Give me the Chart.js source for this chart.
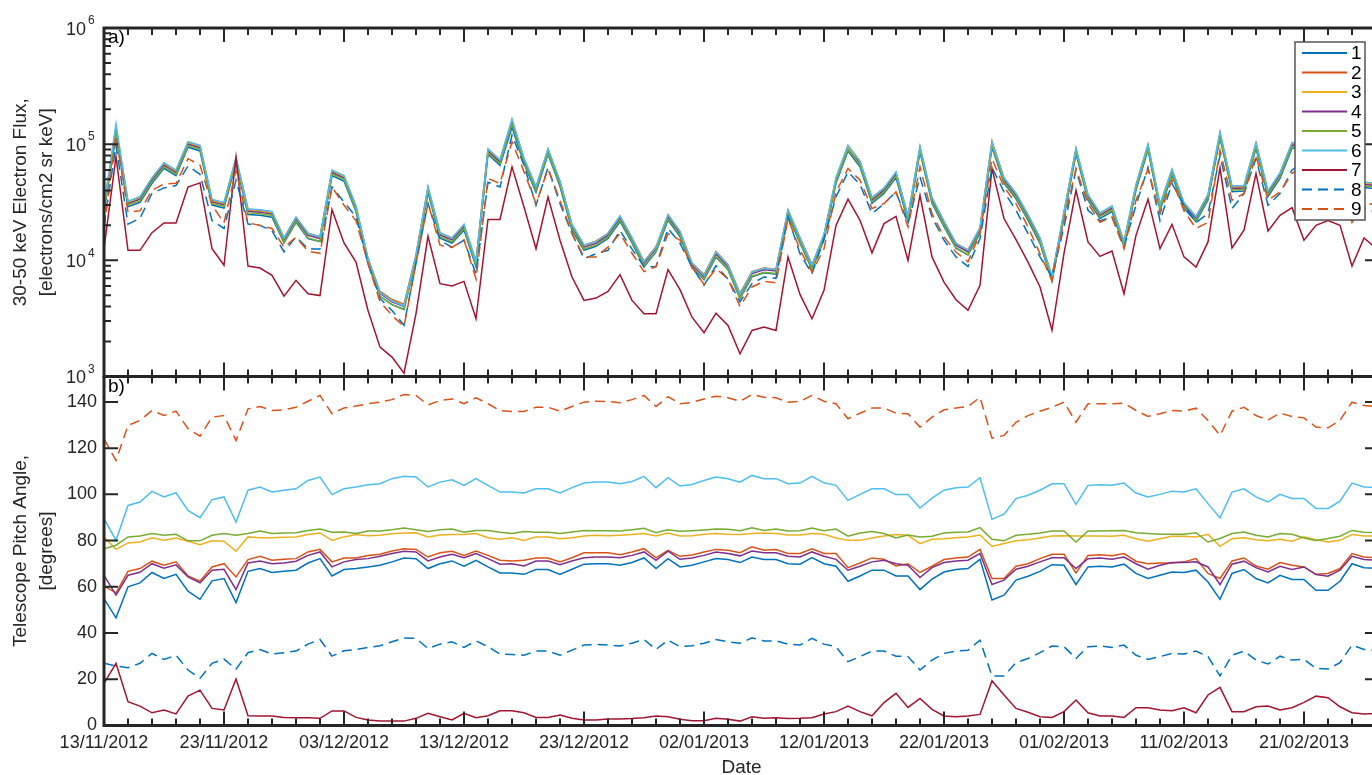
<!DOCTYPE html>
<html>
<head>
<meta charset="utf-8">
<title>30-50 keV electron flux and telescope pitch angle</title>
<script src="https://cdn.jsdelivr.net/npm/chart.js@4.4.1/dist/chart.umd.min.js"></script>
<style>
  html, body { margin: 0; padding: 0; background: #fff; overflow: hidden; }
  #wrap { position: relative; width: 1372px; height: 775px; overflow: hidden; }
  canvas { position: absolute; left: 0; }
  #fluxChart { top: 0; }
  #pitchChart { top: 376px; }
</style>
</head>
<body>
<div id="wrap">
  <canvas id="fluxChart" width="1400" height="400"></canvas>
  <canvas id="pitchChart" width="1400" height="410"></canvas>
</div>
<script>
// one sample per day, counted from 13/11/2012
const dayIndex = Array.from({ length: 107 }, (_, i) => i);
const tickDays = [0, 10, 20, 30, 40, 50, 60, 70, 80, 90, 100];
const tickLabels = ['13/11/2012', '23/11/2012', '03/12/2012', '13/12/2012', '23/12/2012', '02/01/2013',
  '12/01/2013', '22/01/2013', '01/02/2013', '11/02/2013', '21/02/2013'];
const fluxTicks = [1e3, 1e4, 1e5, 1e6];
const pitchTicks = [0, 20, 40, 60, 80, 100, 120, 140];
const seriesNames = ['1', '2', '3', '4', '5', '6', '7', '8', '9'];

// a) 30-50 keV electron flux per telescope
const flux1 = [26300,118000,29000,31600,46100,62000,53600,94000,87400,29900,
  28200,68600,24800,24400,23500,14100,21200,15400,14500,53600,
  47900,26300,9400,4900,4150,3800,10100,38500,15500,14100,
  18200,8800,81800,65800,140000,67700,38500,81800,43200,18200,
  12200,13200,15400,21600,14100,8800,11800,22200,16000,8600,
  6800,10700,8300,4700,7200,7800,7600,24400,14100,8300,
  15000,46100,87400,63900,31000,37600,51700,21600,85500,31000,
  19500,12700,11100,17100,94000,46100,33800,22200,14000,6600,
  23500,82700,32900,22900,26300,13100,40200,89300,27100,54300,
  28000,21500,33000,113000,39000,39500,92100,35300,50800,92100,
  94000,84600,70500,75200,54500,42300,41400];
const flux2 = [29100,136000,32000,34900,51000,68600,59300,104000,96700,33100,
  31200,75900,27500,27000,26000,15600,23400,17100,16000,59300,
  53000,29100,10400,5400,4600,4200,11100,42600,17200,15600,
  20200,9800,90500,72800,160000,74900,42600,90500,47800,20200,
  13500,14600,17100,23900,15600,9800,13100,24500,17700,9500,
  7500,11900,9200,5200,8000,8600,8400,27000,15600,9200,
  16600,51000,96700,70700,34300,41600,57200,23900,94600,34300,
  21500,14000,12300,18900,106000,51000,37400,24500,15500,7300,
  26000,91500,36400,25400,29100,14500,44500,98800,30000,60100,
  31000,23800,36500,125000,43200,43700,102000,39100,56200,102000,
  104000,93600,78000,83200,60300,46800,45800];
const flux3 = [28600,132000,31400,34300,50000,67300,58100,102000,94900,32400,
  30600,74500,26900,26500,25500,15300,23000,16700,15700,58100,
  52000,28600,10200,5300,4500,4100,10900,41800,16800,15300,
  19800,9600,88700,71400,157000,73400,41800,88700,46900,19800,
  13300,14300,16700,23500,15300,9600,12900,24100,17300,9300,
  7300,11600,9000,5100,7900,8500,8300,26500,15300,9000,
  16300,50000,94900,69400,33700,40800,56100,23500,92800,33700,
  21100,13800,12000,18600,102000,50000,36700,24100,15200,7100,
  25500,89800,35700,24900,28600,14200,43700,96900,29400,59000,
  30400,23400,35800,122000,42300,42800,100000,38400,55100,100000,
  102000,91800,76500,81600,59200,45900,44900];
const flux4 = [28000,128000,30800,33600,49000,66000,57000,100000,93000,31800,
  30000,73000,26400,26000,25000,15000,22500,16400,15400,57000,
  51000,28000,10000,5200,4400,4000,10700,41000,16500,15000,
  19400,9400,87000,70000,152000,72000,41000,87000,46000,19400,
  13000,14000,16400,23000,15000,9400,12600,23600,17000,9100,
  7200,11400,8800,5000,7700,8300,8100,26000,15000,8800,
  16000,49000,90000,68000,33000,40000,55000,23000,91000,33000,
  20700,13500,11800,18200,100000,49000,36000,23600,14900,7000,
  25000,88000,35000,24400,28000,13900,42800,95000,28800,57800,
  29800,22900,35100,120000,41500,42000,98000,37600,54000,98000,
  100000,90000,75000,80000,58000,45000,44000];
const flux5 = [27200,126000,29900,32600,47500,64000,55300,97000,90200,30800,
  29100,70800,25600,25200,24300,14200,21800,15600,14600,55300,
  49500,27200,9600,4900,4150,3750,10300,39800,16000,14500,
  18800,9100,84400,67900,150000,69800,39800,84400,44600,18800,
  12500,13500,15900,22300,14500,9000,12000,22900,16500,8700,
  6900,10900,8400,4700,7300,7900,7700,25200,14500,8400,
  15500,47500,90200,66000,32000,38800,53400,22300,88300,32000,
  20100,12900,11200,17700,97000,47500,34900,22900,14400,6700,
  24300,85400,34000,23700,27200,13300,41500,92200,27900,56100,
  28900,22000,34000,116000,40300,40700,95100,36500,52400,95100,
  97000,87300,72800,77600,56300,43700,42700];
const flux6 = [29400,150000,32300,35300,51500,69300,59900,105000,97700,33400,
  31500,76700,27700,27300,26300,15500,23600,17000,15900,59900,
  53600,29400,10300,5300,4450,4050,11100,43100,17300,15500,
  20400,9700,91400,73500,165000,75600,43100,91400,48300,20400,
  13500,14500,17100,24100,15600,9700,12900,24800,17800,9400,
  7400,11800,9100,5100,7900,8500,8300,27300,15600,9100,
  16600,51500,97700,71400,34700,42000,57800,24100,95600,34700,
  21700,14000,12200,19100,104000,51500,37800,24800,15600,7200,
  26300,92400,36800,25600,29400,14400,44900,99800,30200,60700,
  31300,23800,36900,128000,43600,44100,103000,39500,56700,103000,
  105000,94500,78800,84000,60900,47300,46200];
const flux7 = [12600,78000,12200,12200,17300,21000,21000,42800,46400,12600,
  9060,77500,8930,8590,7430,4920,6730,5160,4970,27300,
  14100,9660,3700,1790,1470,1070,3470,16100,6300,6010,
  6590,3140,22500,22500,63800,28800,12600,35100,14900,7180,
  4520,4730,5400,7530,4520,3470,3470,8320,5590,3240,
  2380,3510,2750,1570,2490,2660,2490,10700,5090,3140,
  5510,20000,33600,22100,11600,20700,23900,10000,36300,10700,
  6500,4580,3710,6090,61800,22900,15100,9660,5890,2500,
  11500,40100,14400,10800,12000,5160,16400,33600,12600,20400,
  10700,8770,14400,62600,12800,18200,55800,17900,24400,28400,
  14900,20000,22000,20000,8930,15600,12700];
const flux8 = [20000,98000,20500,23000,37800,42000,44000,65000,55000,22000,
  18800,49000,20500,20000,18000,11800,16000,12500,12500,42800,
  31800,23600,9400,4700,3700,2760,9400,31000,14900,12900,
  14900,7650,47000,42800,120000,66000,29800,63000,30800,17000,
  10300,11400,12200,18000,12500,8800,8800,18800,14000,8800,
  6100,9000,6900,4400,6300,7200,7000,23600,11400,7650,
  15400,35100,57800,45000,25200,30800,38800,20700,52200,23600,
  14900,10700,8850,15400,63000,38800,27000,17000,10700,7180,
  19400,60000,27000,21900,23600,13000,29800,63000,21900,45900,
  29800,21200,25200,79900,27900,37600,75300,29800,37600,60000,
  70000,65000,50000,55000,32900,28000,26000];
const flux9 = [19000,118000,26000,26700,40100,45500,46000,75000,66000,30000,
  21000,60000,21000,20000,18800,13000,15800,12000,11500,42800,
  29800,21900,9400,4400,3350,2700,9400,31000,13500,12900,
  15000,6900,50700,45900,105000,58000,30800,61000,32900,17000,
  10700,10700,13000,17000,11500,8000,8800,17000,14900,8800,
  6200,8500,6900,4000,5900,6600,6400,22900,12300,7900,
  12600,38800,61800,49000,27900,30800,38800,19400,64000,25200,
  15900,11800,9700,17000,75000,42800,30800,19400,11400,6700,
  21900,61800,30800,21200,23600,12600,32900,61000,25200,49000,
  26700,18800,21200,88700,32900,37600,79900,32900,38800,56000,
  65000,60000,48000,50000,21200,30000,31000];

// b) telescope pitch angle, degrees
const pitch1 = [54.9,46.6,60,61.7,66.2,63.6,65.4,58.1,54.6,62.6,
  63.6,53.2,66.7,67.9,66.2,66.7,67.2,70.3,72.2,64.7,
  67.5,67.9,68.6,69.3,70.8,72.5,72.2,67.9,70,71.2,
  68.9,71.5,68.6,66,66,65.4,67.5,67.5,65.4,67.6,
  69.8,70,70,69.3,70.5,72.5,67.9,72.2,68.6,69.3,
  70.8,72.2,71.8,70.5,72.9,71.8,71.8,70,69.8,72.6,
  70,68.9,62.4,64.7,67.2,67.2,64.7,64.7,58.8,63.3,
  66.4,67.5,67.9,71.9,54.3,56.4,62.9,64.6,66.7,69.6,
  69.3,61,68.6,68.9,68.6,69.8,65.8,63.6,65,66.4,
  66.2,67.2,62.1,54.6,65.8,67.5,63.6,61.7,65,63.2,
  63.2,58.5,58.5,62.4,70,68.3,68];
const pitch2 = [60.3,57.4,66.7,67.9,71.1,69.3,70.8,64.7,62.4,68.6,
  70,64.3,71.8,73.2,71.5,71.9,72.2,75.1,76.2,70.8,
  72.5,72.5,73.6,74.1,75.5,76.5,76.2,72.9,74.7,75.4,
  73.6,75.5,73.6,71.5,71.2,71.5,72.5,72.5,70.8,72.6,
  74.7,74.7,74.7,73.9,75.1,76.5,72.5,75.8,73.2,73.8,
  75.1,76.2,75.8,74.8,77.3,75.8,76.1,74.4,74.4,76.5,
  74.4,74.4,68.3,70.3,72.5,71.9,69,70,66.2,68.9,
  71.8,72.5,72.9,76.2,63.6,63.6,68.9,70,72.2,74.1,
  74.1,66,73.6,73.9,73.4,74.4,71.1,70,70.3,70.3,
  70.8,72.2,65.8,63.6,71.2,72.5,69,67.6,70.5,69.3,
  68.6,65.4,65.8,67.9,74.4,72.9,72.6];
const pitch3 = [81.6,76.2,79,79.4,81.2,80.2,81.1,79.7,78.2,79.9,
  79.7,75.4,81.6,81.2,81.2,81.4,81.6,82.6,83.3,80.1,
  81.6,82.6,82.1,82.3,83,83.3,83.4,81.6,82.4,82.6,
  82.6,83.1,81.2,80.6,81.2,80.1,81.6,81.6,80.8,81.2,
  82,82.3,82.1,82.3,82.6,83.1,82,83.3,82,82.1,
  82.7,83.1,82.7,82.6,83.1,83.3,83.1,82.4,82.4,83.1,
  82.7,81.1,80.1,80.1,81.1,82,82.6,82.3,78.7,80.6,
  80.8,81.2,81.6,82.4,77.5,78.7,79.9,80.4,81.1,82,
  82.1,82,82,82,81.9,82.3,80.8,79.7,80.8,81.9,
  81.9,81.6,82.7,77.5,80.8,81.2,80.4,79.9,80.6,79.7,
  81.6,80.4,79.4,80.1,82.6,82,82];
const pitch4 = [65,56.4,65,66.3,70,68.1,69.5,64.3,61.7,67.2,
  67.6,58.8,70.3,71.2,70,70.3,71.1,73.6,75.1,68.6,
  70.8,71.8,72.2,73.2,74.4,75.4,75.1,71.2,72.9,74.1,
  72.6,74.4,72.2,69.8,70,69,71.2,71.2,69.6,71.2,
  72.6,72.9,72.9,72.6,73.6,75.1,71.5,75.4,71.9,72.5,
  73.6,75.1,74.4,73.4,75.5,74.7,74.7,73.2,72.9,75.1,
  73.2,71.9,67.2,68.9,70.8,71.5,70,69.3,64,68.3,
  70.5,71.2,71.5,74.4,61,62.9,67.6,68.9,70.8,72.6,
  72.6,67.9,72.2,72.5,71.9,72.9,70,67.6,69.3,70.5,
  70.5,70.8,68.6,61,69.8,71.1,68.3,66.4,68.9,67.5,
  68.6,65.3,64.6,67.2,73.2,71.8,71.5];
const pitch5 = [76.5,78,81.6,82,83.1,82.3,82.7,79.9,79.9,82.3,
  83.1,82.3,83.1,84.2,83.1,83.3,83.4,84.4,85,83.6,
  83.7,83.1,84.2,84.2,84.7,85.4,84.7,83.9,84.7,85,
  83.6,84.4,84.4,83.6,83.1,83.9,83.6,83.6,83.1,83.7,
  84.4,84.3,84.3,84.2,84.7,85.3,83.4,84.7,84,84.3,
  84.6,85,84.9,84.3,85.6,84.4,85,84.2,84.3,85.4,
  84.3,85,81.9,83.3,83.9,83.1,81.1,82.4,81.6,81.9,
  83.3,83.6,83.7,85.6,80.6,79.9,82.3,82.7,83.3,84.2,
  84.2,79.4,84.2,84.2,84.3,84.4,83.4,83.1,82.7,82.7,
  82.7,83.4,79.4,80.9,83.1,83.7,82.3,81.6,83.1,82.7,
  81.1,80.1,80.9,81.9,84.4,83.6,83.5];
const pitch6 = [89.5,80.1,95.2,96.7,101.3,98.9,100.7,93.1,89.9,97.7,
  98.9,88,101.8,103.2,101,101.8,102.4,106,107.5,99.9,
  102.4,103.2,104.2,104.6,106.8,107.8,107.5,103.2,105.3,106.3,
  103.9,106.8,103.9,101,101,100.6,102.4,102.4,100.6,102.9,
  104.9,105.3,105.3,104.6,105.6,107.8,102.9,107.2,103.6,104.3,
  106,107.5,106.8,105.3,108.2,106.8,106.8,104.6,104.9,107.8,
  105,103.9,97.4,100,102.4,102.4,99.9,99.9,94.1,98.4,
  101.8,102.9,103.2,107.2,89.2,91.4,98.2,99.6,101.8,104.6,
  104.6,95.7,103.9,104.2,103.9,104.9,100.6,98.9,100,101.4,
  101,102.4,96,89.8,101,102.4,98.9,96.7,100,98.2,
  98.2,93.9,93.9,97.1,104.9,103.2,103];
const pitch7 = [18.2,26.9,10.3,8.4,5.5,6.7,5,12.7,15.3,7.4,
  6.7,20.1,4.2,4.1,4.1,3.5,3.4,3.4,3.1,6.3,
  6.3,3.5,2.4,1.9,1.9,1.9,3.1,5.3,3.8,2.4,
  5.3,3.4,4.2,6.4,6.4,5.5,3.5,3.5,4.5,3.1,
  2.4,2.4,2.8,2.8,3,3.4,4.1,3.8,2.7,2.1,
  2.1,3.1,2.7,1.9,3.8,3.1,3.4,3,3.1,3.4,
  5,6,8.4,6,4.2,9.9,13.9,7.8,11.7,7,
  4.1,3.8,4.1,4.8,19.4,13.2,7.4,5.7,3.8,3.5,
  6,11,5.5,4.1,4.1,3.5,7.7,7.7,6.7,6.4,
  7.7,5.5,13.2,16.5,6,6,8.1,8.4,6.7,7.7,
  10,12.7,12,8.1,5.5,5,5.2];
const pitch8 = [26.9,25.7,25,26.9,31.2,28.6,30.4,24,20.4,26.9,
  28.7,24.4,31.5,32.9,30.9,31.5,32.2,35.2,37.2,30,
  32.3,32.9,33.8,34.5,36.2,37.9,37.7,33.3,35.2,36.2,
  33.8,36.6,34.1,30.9,30.7,30.4,32.2,32.2,30.4,32.6,
  34.8,35.1,34.8,34.4,35.6,37.2,32.9,36.9,34.1,34.5,
  35.6,37.2,36.2,35.6,37.9,36.6,36.6,35.2,34.8,37.7,
  35.2,34.1,27.6,29.8,32.2,32.2,30,29.8,24,28.3,
  31.2,32.2,32.6,36.9,21.4,21.4,27.2,29,31.5,34.4,
  34.1,29,34.1,34.4,33.8,34.8,30.4,28.6,29.8,31.2,
  30.9,32.2,29.8,21.5,30.4,32.2,28.3,26.6,30,28.3,
  28.6,24.7,24.4,27.2,34.8,32.9,32.5];
const pitch9 = [124,114.7,129.8,132,136.3,134.1,136,128.4,125.2,133.4,
  134.1,123.3,137,138,136.3,136.6,137.7,140.3,142.8,134.9,
  137.4,138.2,139.2,139.9,141,143.2,142.8,138.7,140.6,141.3,
  139.2,141.8,139.2,136.3,135.9,135.9,137.7,137.7,136,138,
  139.9,140.3,140.2,139.6,141,142.8,138,142.3,139.2,139.8,
  141.3,142.5,141.8,140.3,143.2,142,141.8,139.9,140.2,142.8,
  140.3,139.2,132.7,135.1,137.4,137.4,135.1,134.9,129.1,133.4,
  136.6,137.4,138,142,124.3,125.5,131.2,134.1,136,137.7,
  139.9,131.2,139.2,139.2,139.2,139.5,136.3,133.7,134.9,136.3,
  136,137.3,132,125.5,136,137.7,134.1,132.2,135.1,133.7,
  133.1,129.1,128.8,132,139.9,138.4,138];

// MATLAB default line colours; 8 and 9 are dashed
const seriesColors = ['#0072BD', '#D95319', '#EDB120', '#7E2F8E', '#77AC30', '#4DBEEE', '#A2142F', '#0072BD', '#D95319'];
const seriesDashed = [false, false, false, false, false, false, false, true, true];

const FONT = '"Liberation Sans", Arial, Helvetica, sans-serif';
const AXIS_COLOR = '#262626';
const X_MAX = 106.25;

Chart.defaults.font.family = FONT;
Chart.defaults.color = AXIS_COLOR;

function makeDatasets(seriesList) {
  return seriesList.map((vals, i) => ({
    label: seriesNames[i],
    data: vals,
    borderColor: seriesColors[i],
    borderWidth: 1.5,
    borderDash: seriesDashed[i] ? [10, 6] : [],
    pointRadius: 0,
    tension: 0,
    fill: false,
    order: 9 - i
  }));
}

// minor decade ticks for the log axis
const logMinor = [];
for (let k = 3; k < 6; k++) {
  for (let m = 2; m <= 9; m++) logMinor.push(m * Math.pow(10, k));
}

// pin the y axis to 104px and stop chart.js from padding for edge labels
function fixYAxis(s) {
  s.width = 104;
  s.paddingTop = 0;
  s.paddingBottom = 0;
}

// matlab-ish box: inward ticks on all four sides, panel letter
const framePlugin = {
  id: 'frame',
  afterDraw(chart, args, opts) {
    const { ctx, chartArea: a, scales: { x, y } } = chart;
    ctx.save();
    ctx.strokeStyle = AXIS_COLOR;
    ctx.lineWidth = 2;
    ctx.beginPath();
    for (let d = 0; d <= X_MAX; d += 2) {
      const px = x.getPixelForValue(d);
      const len = d % 10 === 0 ? 14 : 7;
      ctx.moveTo(px, a.top); ctx.lineTo(px, a.top + len);
      ctx.moveTo(px, a.bottom); ctx.lineTo(px, a.bottom - len);
    }
    opts.majorY.forEach(v => {
      const py = y.getPixelForValue(v);
      ctx.moveTo(a.left, py); ctx.lineTo(a.left + 14, py);
      ctx.moveTo(a.right, py); ctx.lineTo(a.right - 14, py);
    });
    (opts.minorY || []).forEach(v => {
      const py = y.getPixelForValue(v);
      ctx.moveTo(a.left, py); ctx.lineTo(a.left + 7, py);
      ctx.moveTo(a.right, py); ctx.lineTo(a.right - 7, py);
    });
    ctx.stroke();
    ctx.lineWidth = 3;
    ctx.strokeRect(a.left, a.top, a.right - a.left, a.bottom - a.top);

    ctx.fillStyle = '#000';
    ctx.font = '19px ' + FONT;
    ctx.textAlign = 'left';
    ctx.textBaseline = 'middle';
    ctx.fillText(opts.panel, a.left + 4, a.top + 10);

    if (opts.powerLabels) {
      fluxTicks.forEach(v => {
        const py = y.getPixelForValue(v);
        ctx.fillStyle = AXIS_COLOR;
        ctx.font = '18px ' + FONT;
        ctx.textAlign = 'right';
        ctx.fillText('10', a.left - 18, py + 2);
        ctx.font = '12px ' + FONT;
        ctx.textAlign = 'left';
        ctx.fillText(String(Math.round(Math.log10(v))), a.left - 16, py - 7);
      });
    }

    if (opts.legend) {
      const lx = a.right - 84, ly = a.top + 14, lw = 70, lh = 178;
      ctx.fillStyle = '#fff';
      ctx.fillRect(lx, ly, lw, lh);
      ctx.strokeStyle = '#555';
      ctx.lineWidth = 1.5;
      ctx.strokeRect(lx, ly, lw, lh);
      chart.data.datasets.forEach((ds, i) => {
        const yy = ly + 11 + i * 19.5;
        ctx.strokeStyle = ds.borderColor;
        ctx.lineWidth = 2;
        ctx.setLineDash(ds.borderDash);
        ctx.beginPath();
        ctx.moveTo(lx + 7, yy); ctx.lineTo(lx + 52, yy);
        ctx.stroke();
        ctx.setLineDash([]);
        ctx.fillStyle = '#000';
        ctx.font = '19px ' + FONT;
        ctx.textAlign = 'left';
        ctx.fillText(ds.label, lx + 56, yy + 1);
      });
    }
    ctx.restore();
  }
};

new Chart(document.getElementById('fluxChart'), {
  type: 'line',
  data: {
    labels: dayIndex,
    datasets: makeDatasets([flux1, flux2, flux3, flux4, flux5, flux6, flux7, flux8, flux9])
  },
  options: {
    responsive: false,
    animation: false,
    layout: { padding: { left: 0, right: 21, top: 28, bottom: 23.5 } },
    plugins: {
      legend: { display: false },
      tooltip: { enabled: false },
      frame: { panel: 'a)', majorY: fluxTicks, minorY: logMinor, powerLabels: true, legend: true }
    },
    scales: {
      x: { type: 'linear', min: 0, max: X_MAX, display: false },
      y: {
        type: 'logarithmic', min: 1e3, max: 1e6,
        grid: { display: false, drawTicks: false },
        border: { display: false },
        ticks: { display: false },
        title: {
          display: true,
          text: ['30-50 keV Electron Flux,', '[electrons/cm2 sr keV]'],
          font: { size: 19, lineHeight: 1.4 },
          color: AXIS_COLOR,
          padding: { top: 7, bottom: 0 }
        },
        afterFit: fixYAxis
      }
    }
  },
  plugins: [framePlugin]
});

new Chart(document.getElementById('pitchChart'), {
  type: 'line',
  data: {
    labels: dayIndex,
    datasets: makeDatasets([pitch1, pitch2, pitch3, pitch4, pitch5, pitch6, pitch7, pitch8, pitch9])
  },
  options: {
    responsive: false,
    animation: false,
    layout: { padding: { left: 0, right: 21, top: 0.5, bottom: 0 } },
    plugins: {
      legend: { display: false },
      tooltip: { enabled: false },
      frame: { panel: 'b)', majorY: pitchTicks }
    },
    scales: {
      x: {
        type: 'linear', min: 0, max: X_MAX, position: 'bottom',
        grid: { display: false, drawTicks: false },
        border: { display: false },
        afterBuildTicks(s) { s.ticks = tickDays.map(v => ({ value: v })); },
        ticks: {
          callback: v => tickLabels[tickDays.indexOf(v)],
          autoSkip: false, maxRotation: 0, padding: 7,
          color: AXIS_COLOR, font: { size: 18 }
        },
        title: { display: true, text: 'Date', font: { size: 19 }, color: AXIS_COLOR, padding: { top: 0, bottom: 6.6 } },
        afterFit(s) { s.height = 60.5; }
      },
      y: {
        min: 0, max: 151,
        grid: { display: false, drawTicks: false },
        border: { display: false },
        afterBuildTicks(s) { s.ticks = pitchTicks.map(v => ({ value: v })); },
        ticks: { padding: 7, color: AXIS_COLOR, font: { size: 18 } },
        title: {
          display: true,
          text: ['Telescope Pitch Angle,', '[degrees]'],
          font: { size: 19, lineHeight: 1.4 },
          color: AXIS_COLOR,
          padding: { top: 7, bottom: 0 }
        },
        afterFit: fixYAxis
      }
    }
  },
  plugins: [framePlugin]
});
</script>
</body>
</html>
